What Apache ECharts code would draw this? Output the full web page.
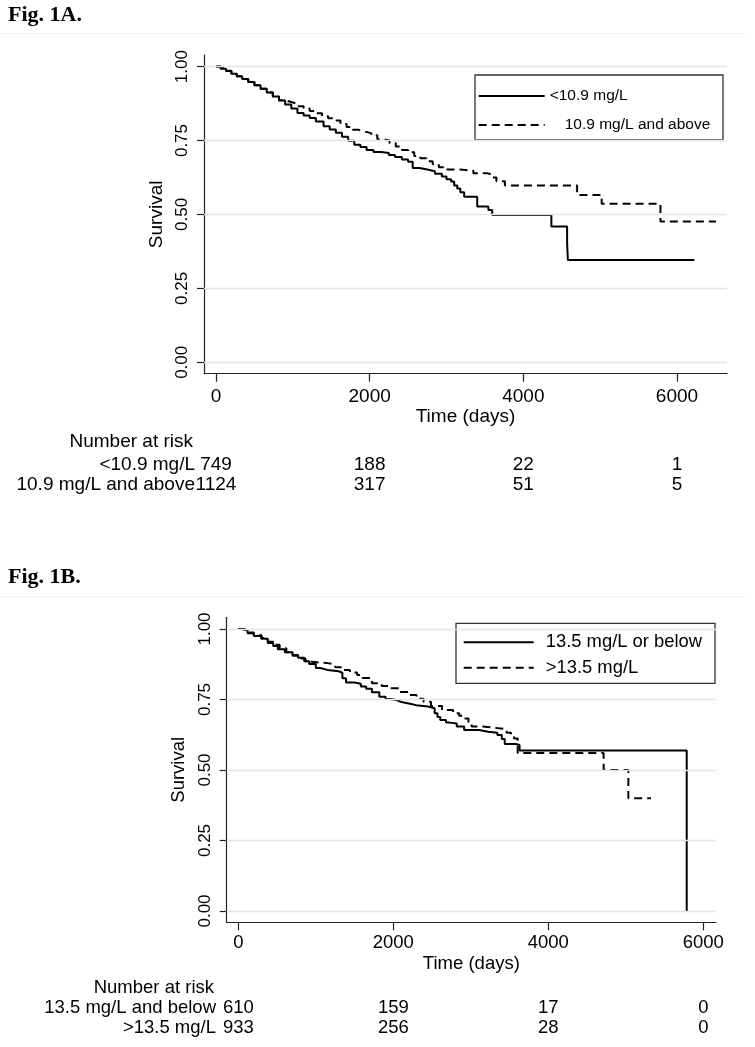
<!DOCTYPE html>
<html><head><meta charset="utf-8">
<script src="https://cdn.jsdelivr.net/npm/echarts@6/dist/echarts.min.js"></script>
<style>html,body{margin:0;padding:0;background:#fff}#c{width:755px;height:1047px}</style>
</head><body><div id="c"></div>
<script>
// ---- shared tick labels ----
const xTicks = [0, 2000, 4000, 6000];
const yTicks = [0, 0.25, 0.5, 0.75, 1];

// ---- Fig 1A ----
const aTitle = 'Fig. 1A.';
const aNames = ['<10.9 mg/L', '10.9 mg/L and above'];
const aLowT = [0,60,130,200,270,340,420,500,580,660,740,820,900,980,1060,1140,1220,1300,1400,1480,1560,1640,1720,1800,1880,1960,2050,2150,2250,2330,2420,2500,2560,2650,2750,2850,2940,3000,3060,3100,3140,3180,3230,3400,3545,3595,4365,4570,4580,6227];
const aLowS = [1,0.993,0.985,0.976,0.967,0.958,0.948,0.937,0.925,0.912,0.899,0.885,0.872,0.858,0.843,0.835,0.826,0.814,0.798,0.787,0.776,0.763,0.749,0.736,0.728,0.718,0.711,0.708,0.701,0.694,0.686,0.678,0.657,0.652,0.646,0.638,0.628,0.619,0.611,0.598,0.588,0.575,0.56,0.527,0.515,0.498,0.459,0.402,0.346,0.346];
const aHighT = [0,60,130,200,270,340,420,500,580,660,740,820,900,980,1060,1140,1220,1300,1380,1460,1540,1620,1700,1780,1860,1940,2020,2100,2180,2260,2340,2420,2500,2580,2660,2740,2820,2900,2960,3180,3350,3540,3600,3650,3760,4700,5020,5785,6507];
const aHighS = [1,0.994,0.986,0.977,0.967,0.958,0.948,0.937,0.925,0.912,0.899,0.886,0.88,0.874,0.866,0.858,0.85,0.842,0.832,0.825,0.818,0.806,0.796,0.786,0.78,0.775,0.768,0.754,0.75,0.741,0.73,0.718,0.71,0.698,0.69,0.68,0.67,0.66,0.652,0.648,0.639,0.634,0.625,0.612,0.598,0.566,0.536,0.476,0.476];
const aRiskLabels = ['<10.9 mg/L', '10.9 mg/L and above'];
const aRiskLow = [749, 188, 22, 1];
const aRiskHigh = [1124, 317, 51, 5];

// ---- Fig 1B ----
const bTitle = 'Fig. 1B.';
const bNames = ['13.5 mg/L or below', '>13.5 mg/L'];
const bLowT = [0,50,120,200,295,380,450,510,600,700,771,850,914,1000,1057,1150,1295,1343,1390,1500,1581,1650,1724,1819,1900,1962,2040,2105,2200,2295,2450,2533,2570,2605,2680,2724,2819,2914,3105,3224,3343,3400,3438,3581,3629,5786];
const bLowS = [1,0.995,0.985,0.975,0.965,0.95,0.94,0.928,0.918,0.908,0.898,0.886,0.876,0.862,0.855,0.85,0.845,0.825,0.81,0.806,0.796,0.788,0.776,0.76,0.752,0.748,0.741,0.736,0.73,0.725,0.719,0.701,0.688,0.677,0.668,0.665,0.654,0.642,0.636,0.632,0.624,0.61,0.592,0.589,0.569,0];
const bHighT = [0,50,120,200,300,380,450,533,620,700,780,867,950,1050,1152,1250,1343,1440,1533,1600,1724,1850,1962,2080,2200,2300,2391,2486,2629,2771,2850,2914,2970,3010,3150,3295,3462,3520,3557,3605,4714,5033,5325];
const bHighS = [1,0.996,0.988,0.978,0.968,0.955,0.944,0.932,0.918,0.905,0.895,0.884,0.881,0.879,0.874,0.864,0.855,0.846,0.837,0.826,0.808,0.798,0.79,0.777,0.766,0.753,0.742,0.727,0.713,0.701,0.692,0.683,0.665,0.654,0.65,0.645,0.632,0.62,0.612,0.56,0.5,0.4,0.4];
const bRiskLabels = ['13.5 mg/L and below', '>13.5 mg/L'];
const bRiskLow = [610, 159, 17, 0];
const bRiskHigh = [933, 256, 28, 0];

const riskHeader = 'Number at risk';
const xName = 'Time (days)';
const yName = 'Survival';

// ---- build ----
const FONT = '"Liberation Sans", Arial, Helvetica, sans-serif';
const SERIF = '"Liberation Serif", "Times New Roman", serif';
const zip = (t, s) => t.map((v, i) => [v, s[i]]);
const chart = echarts.init(document.getElementById('c'), null, {renderer: 'canvas'});

function xAxisCfg(grid, min, max, margin, gap, fs) {
  return {
    type: 'value', gridIndex: grid, min: min, max: max,
    name: xName, nameLocation: 'middle', nameGap: gap,
    nameTextStyle: {fontFamily: FONT, fontSize: fs, color: '#000'},
    axisLine: {show: true, onZero: false, lineStyle: {color: '#222', width: 1.2}},
    axisTick: {show: true, length: 8, inside: false, customValues: xTicks, lineStyle: {color: '#222', width: 1.2}},
    axisLabel: {show: true, customValues: xTicks, margin: margin, fontFamily: FONT, fontSize: fs, color: '#000', formatter: v => String(v)},
    splitLine: {show: false}
  };
}
function yAxisCfg(grid, min, max, gap, fs) {
  return {
    type: 'value', gridIndex: grid, min: min, max: max,
    name: yName, nameLocation: 'middle', nameGap: gap, nameRotate: 90,
    nameTextStyle: {fontFamily: FONT, fontSize: fs, color: '#000'},
    axisLine: {show: true, onZero: false, lineStyle: {color: '#222', width: 1.2}},
    axisTick: {show: true, length: 7, inside: false, customValues: yTicks, lineStyle: {color: '#222', width: 1.2}},
    axisLabel: {show: true, customValues: yTicks, rotate: 90, margin: 13, fontFamily: FONT, fontSize: 17, color: '#000', formatter: v => v.toFixed(2)},
    splitLine: {show: false}
  };
}
function gridSeries(idx) {
  return {
    type: 'line', name: 'grid' + idx, xAxisIndex: idx, yAxisIndex: idx, data: [], z: 1, silent: true,
    markLine: {silent: true, symbol: ['none', 'none'], label: {show: false}, animation: false,
      lineStyle: {color: '#e4e4e4', width: 1.3, type: 'solid'},
      data: yTicks.map(v => ({yAxis: v}))}
  };
}
function curve(idx, name, t, s, dashed) {
  return {
    type: 'line', name: name, xAxisIndex: idx, yAxisIndex: idx, step: 'end',
    symbol: 'none', showSymbol: false, data: zip(t, s), z: 3,
    lineStyle: {color: '#000', width: 2, type: dashed ? [8, 5] : 'solid'},
    itemStyle: {color: '#000'}
  };
}
const hiddenSymbol = {color: 'rgba(0,0,0,0)', borderWidth: 0, borderColor: 'rgba(0,0,0,0)', opacity: 0};

const option = {
  animation: false,
  backgroundColor: '#fff',
  title: [
    {text: aTitle, left: 8, top: 4, textStyle: {fontFamily: SERIF, fontWeight: 'bold', fontSize: 22, color: '#000'}, padding: 0},
    {text: bTitle, left: 8, top: 566, textStyle: {fontFamily: SERIF, fontWeight: 'bold', fontSize: 22, color: '#000'}, padding: 0}
  ],
  grid: [
    {left: 204, top: 55, width: 523, height: 318.7},
    {left: 226.7, top: 617.3, width: 489.3, height: 305}
  ],
  xAxis: [
    xAxisCfg(0, -156, 6651, 14, 33.5, 19),
    xAxisCfg(1, -150, 6164, 11, 32, 18.5)
  ],
  yAxis: [
    yAxisCfg(0, -0.0386, 1.0392, 34.5, 19),
    yAxisCfg(1, -0.0401, 1.0415, 32, 18.5)
  ],
  legend: [
    {orient: 'vertical', left: 477.7, top: 86, padding: 0, itemWidth: 66, itemHeight: 20, itemGap: 9,
     selectedMode: false, borderWidth: 0, itemStyle: hiddenSymbol,
     textStyle: {fontFamily: FONT, fontSize: 15.5, color: '#000', lineHeight: 20},
     data: [{name: aNames[0]}, {name: aNames[1], textStyle: {padding: [0, 0, 0, 15]}}]},
    {orient: 'vertical', left: 462.7, top: 632.3, padding: 0, itemWidth: 70, itemHeight: 20, itemGap: 5.4,
     selectedMode: false, borderWidth: 0, itemStyle: hiddenSymbol,
     textStyle: {fontFamily: FONT, fontSize: 18.4, color: '#000', lineHeight: 20, padding: [0, 0, 0, 7]},
     data: [{name: bNames[0]}, {name: bNames[1]}]}
  ],
  series: [
    gridSeries(0),
    curve(0, aNames[0], aLowT, aLowS, false),
    curve(0, aNames[1], aHighT, aHighS, true),
    gridSeries(1),
    curve(1, bNames[0], bLowT, bLowS, false),
    curve(1, bNames[1], bHighT, bHighS, true)
  ]
};
chart.setOption(option);

// ---- decorations + number-at-risk tables (x from the axis scale) ----
const els = [
  {type: 'line', shape: {x1: 0, y1: 33.5, x2: 745, y2: 33.5}, style: {stroke: '#f0f0f0', lineWidth: 1}, silent: true},
  {type: 'line', shape: {x1: 0, y1: 596.7, x2: 745, y2: 596.7}, style: {stroke: '#f0f0f0', lineWidth: 1}, silent: true},
  {type: 'rect', shape: {x: 475, y: 75, width: 248, height: 65}, style: {fill: 'none', stroke: '#333', lineWidth: 1.3}, silent: true},
  {type: 'rect', shape: {x: 456, y: 623.3, width: 259, height: 60}, style: {fill: 'none', stroke: '#333', lineWidth: 1.3}, silent: true}
];
function txt(s, x, y, align, fs) {
  return {type: 'text', x: x, y: y, silent: true,
    style: {text: s, fill: '#000', fontFamily: FONT, fontSize: fs, align: align, verticalAlign: 'middle'}};
}
function riskTable(axisIdx, labels, rows, labelRight, yHeader, yRows, fs) {
  els.push(txt(riskHeader, labelRight - 2, yHeader, 'right', fs));
  rows.forEach((vals, r) => {
    els.push(txt(labels[r], labelRight, yRows[r], 'right', fs));
    vals.forEach((v, i) => {
      const px = chart.convertToPixel({xAxisIndex: axisIdx}, xTicks[i]);
      els.push(txt(String(v), px, yRows[r], 'center', fs));
    });
  });
}
riskTable(0, aRiskLabels, [aRiskLow, aRiskHigh], 195, 441.7, [465, 485], 19);
riskTable(1, bRiskLabels, [bRiskLow, bRiskHigh], 216, 988, [1008.3, 1028.3], 18.5);
chart.setOption({graphic: els});
</script>
</body></html>
